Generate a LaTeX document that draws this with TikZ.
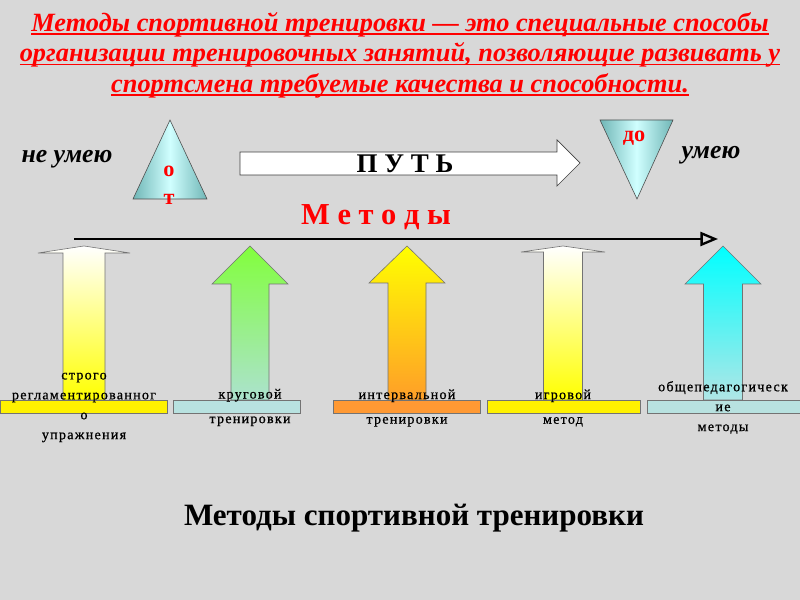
\documentclass[tikz,border=0pt]{standalone}
\usepackage{fontspec}
\setmainfont{Liberation Serif}
\newfontfamily\lblfont[LetterSpace=9,FakeBold=0.8]{Liberation Serif}
\usetikzlibrary{arrows.meta,positioning}

\definecolor{slidebg}{RGB}{216,216,216}
\definecolor{tealedge}{RGB}{112,182,182}
\definecolor{tealmid}{RGB}{208,255,255}
\definecolor{barteal}{RGB}{184,226,224}
\definecolor{barorange}{RGB}{255,153,51}
\definecolor{grtop}{RGB}{130,255,60}
\definecolor{grbot}{RGB}{172,226,206}
\definecolor{ortop}{RGB}{255,255,0}
\definecolor{orbot}{RGB}{255,158,40}
\definecolor{cytop}{RGB}{0,255,255}
\definecolor{cybot}{RGB}{176,230,230}

% thick underline for the definition lines
\newcommand{\thickul}[1]{\setbox0\hbox{#1}\rlap{\rule[-3.2pt]{\wd0}{1.4pt}}\box0}

\begin{document}
\begin{tikzpicture}[x=0.03cm,y=-0.03cm,
    headline/.style={text=red,font=\bfseries\itshape\fontsize{22.5}{26}\selectfont,align=center,inner sep=0},
    redmark/.style={text=red,font=\bfseries\fontsize{19}{19}\selectfont,inner sep=0},
    skill/.style={font=\bfseries\itshape\fontsize{22}{22}\selectfont,inner sep=0},
    cone/.style={draw=black!70,line width=0.5pt,left color=tealedge,right color=tealedge,middle color=tealmid},
    basebar/.style={draw=black!55,line width=0.6pt},
    methodlbl/.style={font=\lblfont\fontsize{12}{17}\selectfont,align=center,inner sep=0}]

\useasboundingbox (0,0) rectangle (800,600);
\fill[slidebg] (0,0) rectangle (800,600);

% definition
\node[headline] (title) at (400,55) {\thickul{Методы спортивной тренировки --- это специальные способы}\\
  \thickul{организации тренировочных занятий, позволяющие развивать у}\\
  \thickul{спортсмена требуемые качества и способности.}};

% from -- path -- to
\node[skill] (cant) at (67,159) {не умею};
\shade[cone] (170,120) -- (207,199) -- (133,199) -- cycle;
\node[redmark] (from1) at (169,171) {о};
\node[redmark] (from2) at (169,199) {т};

\draw[black!75,fill=white,line width=0.6pt] (240,152) -- (557,152) -- (557,140) -- (580,163)
  -- (557,186) -- (557,175) -- (240,175) -- cycle;
\node[font=\bfseries\fontsize{23}{23}\selectfont,inner sep=0] (way) at (405,164) {П У Т Ь};

\shade[cone] (600,120) -- (673,120) -- (637,199) -- cycle;
\node[redmark] (to) at (634,138) {до};
\node[skill] (can) at (711,155) {умею};

\node[text=red,font=\bfseries\fontsize{26}{26}\selectfont,inner sep=0] (methods) at (376,217) {М е т о д ы};

\coordinate (axisL) at (74,239);
\coordinate (axisR) at (718,239);
\draw[line width=1.8pt,-{Triangle[open,fill=white!85!black,length=15pt,width=12pt,line width=2pt]}] (axisL) -- (axisR);

% up arrows
\foreach \cx/\hs/\hw/\wy/\tc/\bc in {84/21/46/253/white/yellow, 250/19/38/284/grtop/grbot,
    407/19/38/283/ortop/orbot, 563/19.5/42/252/white/yellow, 723/19.5/38/284/cytop/cybot}
  \shade[draw=black!55,line width=0.5pt,top color=\tc,bottom color=\bc]
    ({\cx-\hs},400) -- ({\cx-\hs},\wy) -- ({\cx-\hw},\wy) -- (\cx,246)
    -- ({\cx+\hw},\wy) -- ({\cx+\hs},\wy) -- ({\cx+\hs},400) -- cycle;

% bars
\draw[basebar,fill=yellow] (0,400) rectangle (167,413);
\draw[basebar,fill=barteal] (173,400) rectangle (300,413);
\draw[basebar,fill=barorange] (333,400) rectangle (480,413);
\draw[basebar,fill=yellow] (487,400) rectangle (640,413);
\draw[basebar,fill=barteal] (647,400) rectangle (800,413);

\node[methodlbl] (m1) at (84,407.5) {строго\\регламентированног\\о\\упражнения};
\node[methodlbl] (m2) at (250,407.5) {круговой\\[4pt]тренировки};
\node[methodlbl] (m3) at (407,408) {интервальной\\[4pt]тренировки};
\node[methodlbl] (m4) at (563,408) {игровой\\[4pt]метод};
\node[methodlbl] (m5) at (723,407.5) {общепедагогическ\\ие\\методы};

\node[font=\bfseries\fontsize{26.5}{26.5}\selectfont,inner sep=0] (caption) at (414,518) {Методы спортивной тренировки};
\end{tikzpicture}
\end{document}
